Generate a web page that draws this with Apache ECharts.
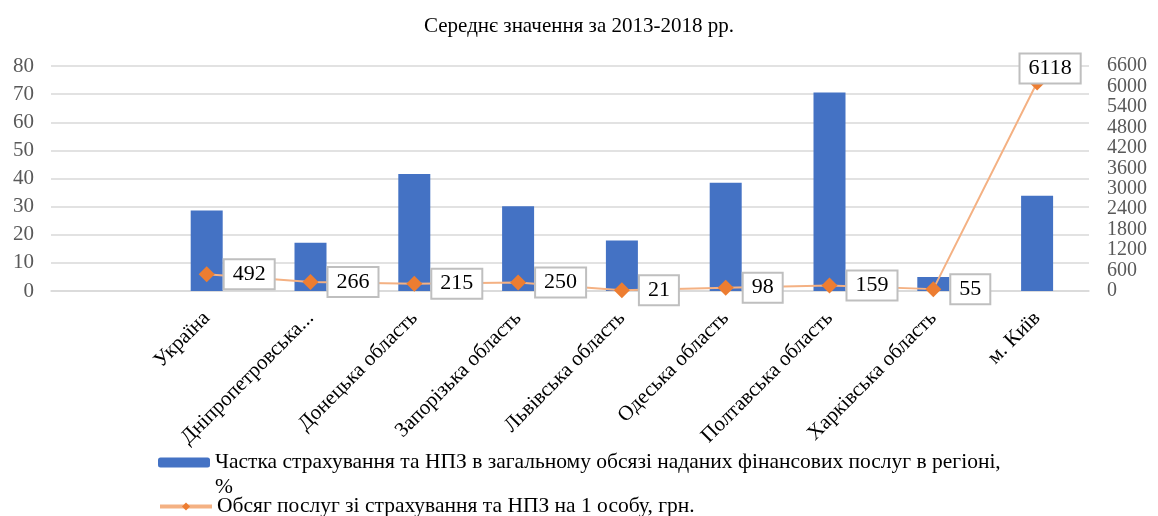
<!DOCTYPE html>
<html>
<head>
<meta charset="utf-8">
<script src="https://cdn.jsdelivr.net/npm/echarts@6/dist/echarts.min.js"></script>
<style>
  html, body { margin: 0; padding: 0; background: #fff; }
  #chart { width: 1158px; height: 516px; }
</style>
</head>
<body>
<div id="chart"></div>
<script>
// категорії (перша порожня, як у вихідній діаграмі)
const categories = ['', 'Україна', 'Дніпропетровська...', 'Донецька область', 'Запорізька область',
  'Львівська область', 'Одеська область', 'Полтавська область', 'Харківська область', 'м. Київ'];
// частка страхування та НПЗ, %
const shareValues = ['-', 28.6, 17.2, 41.6, 30.1, 18.0, 38.5, 70.6, 5.0, 33.9];
// обсяг послуг на 1 особу, грн
const perPersonValues = ['-', 492, 266, 215, 250, 21, 98, 159, 55, 6118];
const leftTicks = { min: 0, max: 80, interval: 10 };
const rightTicks = { min: 0, max: 6600, interval: 600 };

const shareName = 'Частка страхування та НПЗ в загальному обсязі наданих фінансових послуг в регіоні, %';
const perPersonName = 'Обсяг послуг зі страхування та НПЗ на 1 особу, грн.';

const serif = 'Liberation Serif, Times New Roman, serif';

let myChart = echarts.init(document.getElementById('chart'));

// останню мітку (найбільше значення) ставимо зверху точки
let lineData = perPersonValues.map((v, i) =>
  i === perPersonValues.length - 1
    ? { value: v, label: { position: 'top', distance: -8, offset: [13, 0] } }
    : v);

const legendText = { fontFamily: serif, fontSize: 21.5, color: '#000', lineHeight: 25 };

myChart.setOption({
  animation: false,
  textStyle: { fontFamily: serif },
  title: {
    text: 'Середнє значення за 2013-2018 рр.',
    left: 'center',
    top: 11,
    textStyle: { fontFamily: serif, fontSize: 21, fontWeight: 'normal', color: '#000' }
  },
  grid: { left: 51, right: 69, top: 66, bottom: 225 },
  legend: [
    {
      // порожній перший рядок, щоб значок стояв на рівні тексту, а "%" перейшов нижче
      left: 153,
      top: 420,
      itemWidth: 52,
      itemHeight: 10,
      formatter: name => ' \n' + name.replace('регіоні, %', 'регіоні,\n%'),
      textStyle: legendText,
      data: [shareName]
    },
    {
      left: 153,
      top: 489,
      itemWidth: 52,
      itemHeight: 10,
      lineStyle: { width: 4, color: '#F4B183' },
      textStyle: legendText,
      data: [perPersonName]
    }
  ],
  xAxis: {
    type: 'category',
    data: categories,
    axisTick: { show: false },
    axisLine: { show: true, lineStyle: { color: '#d9d9d9', width: 1.5 } },
    axisLabel: {
      rotate: 45,
      interval: 0,
      margin: 24,
      fontFamily: serif,
      fontSize: 21,
      color: '#000'
    }
  },
  yAxis: [
    {
      type: 'value',
      min: leftTicks.min,
      max: leftTicks.max,
      interval: leftTicks.interval,
      axisLine: { show: false },
      axisTick: { show: false },
      axisLabel: { fontFamily: serif, fontSize: 21, color: '#595959', margin: 17 },
      splitLine: { show: true, lineStyle: { color: '#d9d9d9', width: 1.5 } }
    },
    {
      type: 'value',
      min: rightTicks.min,
      max: rightTicks.max,
      interval: rightTicks.interval,
      axisLine: { show: false },
      axisTick: { show: false },
      axisLabel: {
        fontFamily: serif, fontSize: 20, color: '#595959', margin: 18,
        showMinLabel: true,
        showMaxLabel: true,
        formatter: v => String(v)
      },
      splitLine: { show: false }
    }
  ],
  series: [
    {
      name: shareName,
      type: 'bar',
      data: shareValues,
      barWidth: 32,
      itemStyle: { color: '#4472C4' }
    },
    {
      name: perPersonName,
      type: 'line',
      yAxisIndex: 1,
      data: lineData,
      symbol: 'diamond',
      symbolSize: 16,
      itemStyle: { color: '#ED7D31' },
      lineStyle: { color: '#F4B183', width: 2 },
      label: {
        show: true,
        position: 'right',
        distance: 10,
        fontFamily: serif,
        fontSize: 22,
        color: '#000',
        backgroundColor: '#fff',
        borderColor: '#bfbfbf',
        borderWidth: 2,
        padding: [3, 8]
      },
      z: 3
    }
  ]
});
</script>
</body>
</html>
